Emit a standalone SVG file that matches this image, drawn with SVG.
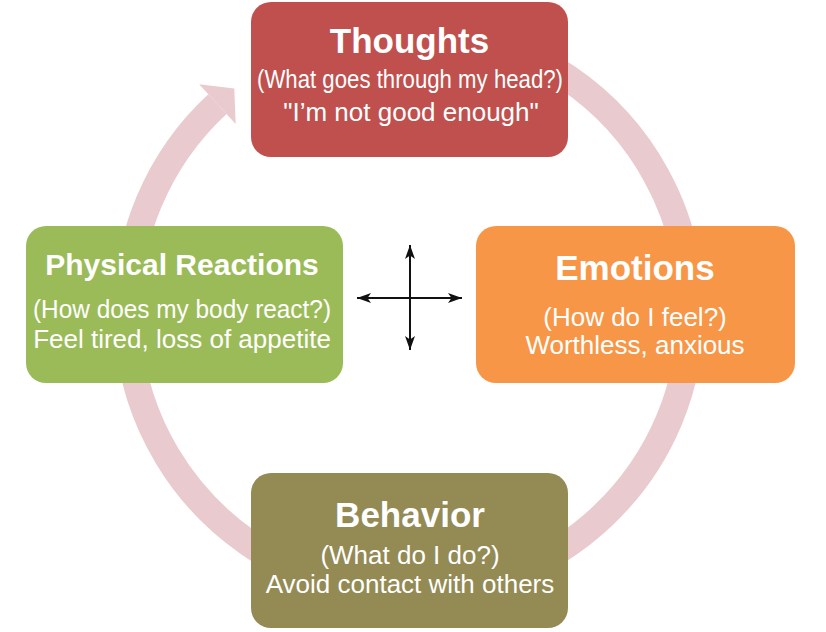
<svg xmlns="http://www.w3.org/2000/svg" width="826" height="632" viewBox="0 0 826 632">
  <style>
    .box { stroke: none; }
    .title { font-family: "Liberation Sans", Arial, sans-serif; font-weight: bold; fill: #ffffff; text-anchor: middle; }
    .sub { font-family: "Liberation Sans", Arial, sans-serif; font-size: 26px; fill: #ffffff; text-anchor: middle; }
    .ring { fill: none; stroke: #e9cbcf; stroke-width: 27; }
    .cross { stroke: #111111; stroke-width: 2; fill: none; marker-start: url(#ah); marker-end: url(#ah); }
  </style>
  <defs>
    <marker id="ah" viewBox="0 0 14 10" refX="14" refY="5" markerWidth="14" markerHeight="10" markerUnits="userSpaceOnUse" orient="auto-start-reverse">
      <path d="M0,0 L14,5 L0,10 L3.5,5 z" fill="#111111"/>
    </marker>
  </defs>
  <rect width="826" height="632" fill="#ffffff"/>

  <g id="connectors">
    <path class="ring" d="M 458.0 33.3 A 282 282 0 1 1 217.4 104.1"/>
    <polygon points="199.1,84.3 234.3,88.5 235.7,123.9" fill="#e9cbcf"/>
    <line class="cross" x1="357" y1="298" x2="462" y2="298"/>
    <line class="cross" x1="410" y1="245" x2="410" y2="350"/>
  </g>

  <g id="thoughts">
    <rect class="box" x="251" y="2" width="317" height="155" rx="20" fill="#c0504d"/>
    <text class="title" x="409.5" y="53" font-size="35">Thoughts</text>
    <text class="sub" x="410" y="88" font-size="24" textLength="306" lengthAdjust="spacingAndGlyphs">(What goes through my head?)</text>
    <text class="sub" x="411" y="121">"I’m not good enough"</text>
  </g>

  <g id="physical">
    <rect class="box" x="26" y="226" width="317" height="157" rx="20" fill="#9bbb59"/>
    <text class="title" x="182" y="275" font-size="30">Physical Reactions</text>
    <text class="sub" x="182" y="318" textLength="298" lengthAdjust="spacingAndGlyphs">(How does my body react?)</text>
    <text class="sub" x="182" y="348">Feel tired, loss of appetite</text>
  </g>

  <g id="emotions">
    <rect class="box" x="476" y="226" width="319" height="157" rx="20" fill="#f79646"/>
    <text class="title" x="635" y="280" font-size="35">Emotions</text>
    <text class="sub" x="635" y="326">(How do I feel?)</text>
    <text class="sub" x="635" y="354">Worthless, anxious</text>
  </g>

  <g id="behavior">
    <rect class="box" x="251" y="473" width="317" height="155" rx="20" fill="#948a54"/>
    <text class="title" x="410" y="527" font-size="35">Behavior</text>
    <text class="sub" x="410" y="564">(What do I do?)</text>
    <text class="sub" x="410" y="593">Avoid contact with others</text>
  </g>
</svg>
